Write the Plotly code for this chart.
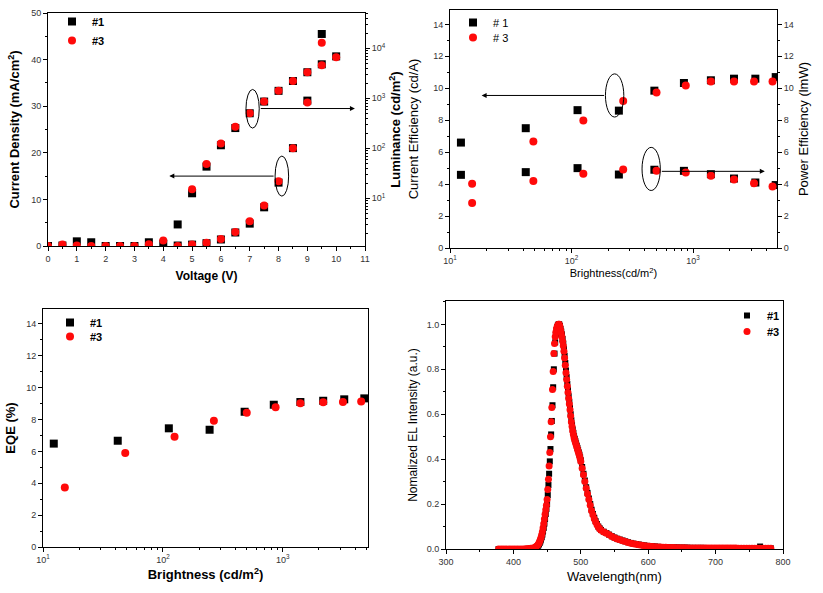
import plotly.graph_objects as go

# ---------------- Panel 1: J-V-L ----------------
voltage = [0, 0.5, 1, 1.5, 2, 2.5, 3, 3.5, 4, 4.5, 5, 5.5, 6, 6.5, 7, 7.5, 8, 8.5, 9, 9.5]
j_dev1 = [0.0, 0.1, 1.0, 0.8, 0.0, 0.0, 0.0, 0.8, 0.5, 0.1, 0.3, 0.6, 1.4, 2.9, 4.8, 8.3, 13.6, 21.0, 31.2, 45.5]
j_dev3 = [0.0, 0.3, 0.1, 0.0, 0.0, 0.0, 0.0, 0.4, 1.2, 0.0, 0.3, 0.7, 1.5, 3.0, 5.3, 8.7, 13.9, 21.0, 30.8, 43.6]
lum_v1 = [4.5, 5, 5.5, 6, 6.5, 7, 7.5, 8, 8.5, 9, 9.5, 10]
lum_dev1 = [3.0, 12.6, 43, 115, 254, 502, 861, 1410, 2215, 3320, 4790, 6900]
lum_v3 = [5, 5.5, 6, 6.5, 7, 7.5, 8, 8.5, 9, 9.5, 10]
lum_dev3 = [15.2, 48.5, 125, 270, 502, 861, 1410, 2215, 3320, 4570, 6620]

# ---------------- Panel 2/3: efficiencies ----------------
bright1 = [12.3, 42, 112, 245, 480, 840, 1400, 2170, 3250, 4780]
bright3 = [15.2, 48.5, 125, 266, 500, 870, 1400, 2170, 3170, 4500]
ce1 = [6.6, 7.5, 8.63, 8.6, 9.85, 10.33, 10.5, 10.6, 10.6, 10.7]
ce3 = [4.02, 6.67, 7.98, 9.2, 9.73, 10.17, 10.42, 10.42, 10.42, 10.42]
pe1 = [4.58, 4.75, 5.0, 4.6, 4.9, 4.83, 4.62, 4.35, 4.1, 3.94]
pe3 = [2.81, 4.2, 4.65, 4.92, 4.83, 4.73, 4.52, 4.29, 4.06, 3.85]
eqe1 = [6.49, 6.67, 7.45, 7.36, 8.49, 8.93, 9.1, 9.18, 9.27, 9.33]
eqe3 = [3.74, 5.9, 6.92, 7.93, 8.43, 8.77, 9.02, 9.08, 9.1, 9.14]

# ---------------- Panel 4: EL spectra ----------------
wavelength = (list(range(378, 435, 4)) + list(range(436, 501)) +
              list(range(502, 531, 2)) + list(range(534, 783, 4)))
el_dev3 = [
    0, 0, 0, 0, 0, 0, 0, 0, 0, 0, 0.001, 0.002, 0.003, 0.006, 0.012,
    0.017, 0.021, 0.027, 0.034, 0.042, 0.051, 0.063, 0.077, 0.093, 0.112,
    0.133, 0.155, 0.175, 0.195, 0.22, 0.265, 0.31, 0.37, 0.43, 0.5,
    0.567, 0.63, 0.71, 0.79, 0.87, 0.915, 0.945, 0.965, 0.98, 0.99,
    0.997, 1.0, 1.0, 0.99, 0.975,
    0.962, 0.945, 0.925, 0.905, 0.88, 0.85, 0.818, 0.785, 0.755, 0.725,
    0.697, 0.67, 0.645, 0.62, 0.592, 0.565, 0.545, 0.525, 0.51, 0.495,
    0.485, 0.475, 0.465, 0.455, 0.445, 0.435, 0.425, 0.415, 0.403, 0.39,
    0.36, 0.33, 0.3, 0.27, 0.245, 0.22, 0.195, 0.17, 0.152, 0.135,
    0.12, 0.108, 0.098, 0.09, 0.083,
    0.076, 0.07, 0.063, 0.056, 0.05, 0.045, 0.041, 0.037, 0.033, 0.029,
    0.026, 0.023, 0.021, 0.019, 0.017, 0.015, 0.013, 0.012, 0.011, 0.01,
    0.009, 0.009, 0.008, 0.008, 0.007, 0.007, 0.007, 0.006, 0.006, 0.006,
    0.006, 0.005, 0.005, 0.005, 0.005, 0.005, 0.005, 0.005, 0.004, 0.004,
    0.004, 0.004, 0.004, 0.004, 0.004, 0.004, 0.004, 0.004, 0.004, 0.004,
    0.003, 0.003, 0.003, 0.003, 0.003, 0.003, 0.003, 0.003, 0.003, 0.003,
    0.003, 0.003, 0.003,
]
el_dev1 = [
    0, 0, 0, 0, 0, 0, 0, 0, 0, 0, 0, 0.001, 0.002, 0.004, 0.009,
    0.012, 0.016, 0.021, 0.027, 0.034, 0.042, 0.052, 0.064, 0.078, 0.094,
    0.113, 0.134, 0.156, 0.178, 0.2, 0.24, 0.285, 0.335, 0.39, 0.445,
    0.51, 0.57, 0.64, 0.72, 0.8, 0.87, 0.92, 0.955, 0.975, 0.988,
    0.996, 1.0, 1.0, 0.993, 0.98,
    0.968, 0.955, 0.935, 0.915, 0.89, 0.86, 0.828, 0.795, 0.765, 0.735,
    0.707, 0.68, 0.654, 0.628, 0.6, 0.573, 0.552, 0.532, 0.517, 0.502,
    0.491, 0.48, 0.47, 0.46, 0.45, 0.44, 0.43, 0.42, 0.408, 0.395,
    0.365, 0.335, 0.305, 0.275, 0.25, 0.225, 0.2, 0.175, 0.156, 0.139,
    0.124, 0.111, 0.1, 0.092, 0.085,
    0.077, 0.071, 0.064, 0.057, 0.051, 0.046, 0.042, 0.038, 0.034, 0.03,
    0.027, 0.024, 0.022, 0.02, 0.018, 0.016, 0.014, 0.013, 0.012, 0.011,
    0.01, 0.009, 0.009, 0.008, 0.008, 0.007, 0.007, 0.007, 0.006, 0.006,
    0.006, 0.006, 0.005, 0.005, 0.005, 0.005, 0.005, 0.005, 0.004, 0.004,
    0.004, 0.004, 0.004, 0.004, 0.004, 0.004, 0.004, 0.004, 0.004, 0.004,
    0.003, 0.003, 0.003, 0.003, 0.003, 0.003, 0.003, 0.003, 0.011, 0.003,
    0.003, 0.003, 0.003,
]

BLACK = "#000000"
RED = "#ff0a0a"
FONT = "Liberation Sans, Arial, sans-serif"
TICKFONT = dict(family=FONT, size=9, color="#333333")


def sq(size=7):
    return dict(symbol="square", size=size, color=BLACK)


def ci(size=8):
    return dict(symbol="circle", size=size, color=RED)


fig = go.Figure()

# Panel 1
fig.add_trace(go.Scatter(x=voltage, y=j_dev1, mode="markers", marker=sq(8), name="<b>#1</b>",
                         xaxis="x", yaxis="y", legend="legend"))
fig.add_trace(go.Scatter(x=voltage, y=j_dev3, mode="markers", marker=ci(8), name="<b>#3</b>",
                         xaxis="x", yaxis="y", legend="legend2"))
fig.add_trace(go.Scatter(x=lum_v1, y=lum_dev1, mode="markers", marker=sq(8), showlegend=False,
                         xaxis="x", yaxis="y2"))
fig.add_trace(go.Scatter(x=lum_v3, y=lum_dev3, mode="markers", marker=ci(8), showlegend=False,
                         xaxis="x", yaxis="y2"))

# Panel 2
fig.add_trace(go.Scatter(x=bright1, y=ce1, mode="markers", marker=sq(8), name="# 1",
                         xaxis="x2", yaxis="y3", legend="legend3"))
fig.add_trace(go.Scatter(x=bright3, y=ce3, mode="markers", marker=ci(8), name="# 3",
                         xaxis="x2", yaxis="y3", legend="legend4"))
fig.add_trace(go.Scatter(x=bright1, y=pe1, mode="markers", marker=sq(8), showlegend=False,
                         xaxis="x2", yaxis="y4"))
fig.add_trace(go.Scatter(x=bright3, y=pe3, mode="markers", marker=ci(8), showlegend=False,
                         xaxis="x2", yaxis="y4"))

# Panel 3
fig.add_trace(go.Scatter(x=bright1, y=eqe1, mode="markers", marker=sq(8), name="<b>#1</b>",
                         xaxis="x3", yaxis="y5", legend="legend5"))
fig.add_trace(go.Scatter(x=bright3, y=eqe3, mode="markers", marker=ci(8), name="<b>#3</b>",
                         xaxis="x3", yaxis="y5", legend="legend6"))

# Panel 4
fig.add_trace(go.Scatter(x=wavelength, y=el_dev1, mode="markers", marker=sq(6), name="<b>#1</b>",
                         xaxis="x4", yaxis="y6", legend="legend7"))
fig.add_trace(go.Scatter(x=wavelength, y=el_dev3, mode="markers", marker=ci(7), name="<b>#3</b>",
                         xaxis="x4", yaxis="y6", legend="legend8"))


def lin_axis(rng, dtick, mdtick, domain, anchor, title=None, bold=False, tsize=12,
             standoff=5, side=None, mirror=True, tickformat=None):
    d = dict(range=rng, domain=domain, anchor=anchor, showline=True, linecolor="black",
             linewidth=1, mirror=mirror, ticks="outside", ticklen=4, tickcolor="black",
             tickwidth=1, dtick=dtick, tick0=0, showgrid=False, zeroline=False,
             tickfont=TICKFONT, automargin=False,
             minor=dict(ticks="outside", ticklen=2, dtick=mdtick, tick0=0,
                        tickcolor="black", showgrid=False))
    if tickformat:
        d["tickformat"] = tickformat
    if side:
        d["side"] = side
    if title:
        txt = f"<b>{title}</b>" if bold else title
        d["title"] = dict(text=txt, font=dict(family=FONT, size=tsize, color="black"),
                          standoff=standoff)
    return d


def log_axis(rng, decades, domain, anchor, title=None, bold=False, tsize=12, standoff=5,
             side=None, mirror=True):
    tv = [10 ** p for p in decades]
    tt = [f"10<sup>{p}</sup>" for p in decades]
    minor_vals = []
    for p in range(0, 6):
        for m in range(2, 10):
            minor_vals.append(m * 10 ** p)
    d = dict(type="log", range=rng, domain=domain, anchor=anchor, showline=True,
             linecolor="black", linewidth=1, mirror=mirror, ticks="outside", ticklen=4,
             tickcolor="black", tickmode="array", tickvals=tv, ticktext=tt,
             showgrid=False, zeroline=False, tickfont=TICKFONT, automargin=False,
             minor=dict(ticks="outside", ticklen=2, tickmode="array", tickvals=minor_vals,
                        tickcolor="black", showgrid=False))
    if side:
        d["side"] = side
    if title:
        txt = f"<b>{title}</b>" if bold else title
        d["title"] = dict(text=txt, font=dict(family=FONT, size=tsize, color="black"),
                          standoff=standoff)
    return d


W, H = 823, 593


def dx(a, b):
    return [a / W, b / W]


def dy(top, bottom):
    return [1 - bottom / H, 1 - top / H]


layout = dict(
    width=W, height=H, margin=dict(l=0, r=0, t=0, b=0, autoexpand=False),
    paper_bgcolor="white", plot_bgcolor="white",
    font=dict(family=FONT, color="black"),
)

# Panel 1 axes
layout["xaxis"] = lin_axis([0, 11], 1, 0.5, dx(48, 365), "y", "Voltage (V)", bold=True,
                           tsize=12, standoff=8)
layout["yaxis"] = lin_axis([0, 50], 10, 5, dy(13, 246), "x",
                           "Current Density (mA/cm<sup>2</sup>)",
                           bold=True, tsize=13, standoff=8, mirror=False)
y2 = log_axis([0.046, 4.706], [1, 2, 3, 4], dy(13, 246), "x",
              "Luminance (cd/m<sup>2</sup>)", bold=True, tsize=13, standoff=6, side="right",
              mirror=False)
y2["overlaying"] = "y"
layout["yaxis2"] = y2

# Panel 2 axes
layout["xaxis2"] = log_axis([1, 3.69], [1, 2, 3], dx(450, 777), "y3",
                            "Brightness(cd/m<sup>2</sup>)", tsize=11, standoff=4)
layout["yaxis3"] = lin_axis([0, 14.9], 2, 1, dy(10, 248), "x2", "Current Efficiency (cd/A)",
                            tsize=13, standoff=11, mirror=False)
y4 = lin_axis([0, 14.9], 2, 1, dy(10, 248), "x2", "Power Efficiency (lmW)", tsize=13,
              standoff=6, side="right", mirror=False)
y4["overlaying"] = "y3"
layout["yaxis4"] = y4

# Panel 3 axes
layout["xaxis3"] = log_axis([1, 3.71], [1, 2, 3], dx(43, 368), "y5",
                            "Brightness (cd/m<sup>2</sup>)", bold=True, tsize=13, standoff=6)
layout["yaxis5"] = lin_axis([0, 14.94], 2, 1, dy(309, 547), "x3", "EQE (%)", bold=True,
                            tsize=13, standoff=7)

# Panel 4 axes
layout["xaxis4"] = lin_axis([300, 800], 100, 50, dx(446, 783), "y6", "Wavelength(nm)",
                            tsize=13, standoff=6)
layout["yaxis6"] = lin_axis([0, 1.104], 0.2, 0.1, dy(301, 549), "x4",
                            "Nomalized EL Intensity (a.u.)", tsize=12, standoff=6,
                            tickformat=".1f")

leg_common = dict(bgcolor="rgba(0,0,0,0)", borderwidth=0, itemwidth=30, tracegroupgap=0,
                  xanchor="left", yanchor="top")
legend_pos = {
    "legend": (52, 7, 11), "legend2": (52, 26, 11),
    "legend3": (453, 8, 11), "legend4": (453, 23, 11),
    "legend5": (50, 308, 11), "legend6": (50, 322, 11),
    "legend7": (727, 301, 11), "legend8": (727, 317, 11),
}
for key, (lx, ly, fs) in legend_pos.items():
    layout[key] = dict(leg_common, x=lx / W, y=1 - ly / H,
                       font=dict(family=FONT, size=fs, color="black"))

shapes = []
annotations = []
line = dict(color="black", width=1)
# Panel 1 ellipses / arrows
shapes.append(dict(type="circle", xref="x", yref="y", x0=6.87, x1=7.33, y0=25.3, y1=33.6, line=line))
shapes.append(dict(type="circle", xref="x", yref="y", x0=7.88, x1=8.35, y0=10.7, y1=19.3, line=line))
annotations.append(dict(xref="x", yref="y", axref="x", ayref="y", x=10.65, y=29.5, ax=7.33, ay=29.5,
                        text="", showarrow=True, arrowhead=2, arrowsize=1, arrowwidth=1,
                        arrowcolor="black"))
annotations.append(dict(xref="x", yref="y", axref="x", ayref="y", x=4.21, y=15.0, ax=7.88, ay=15.0,
                        text="", showarrow=True, arrowhead=2, arrowsize=1, arrowwidth=1,
                        arrowcolor="black"))
# Panel 2 ellipses / arrows
shapes.append(dict(type="circle", xref="x2", yref="y3", x0=190, x1=269, y0=8.2, y1=10.9, line=line))
shapes.append(dict(type="circle", xref="x2", yref="y3", x0=380, x1=537, y0=3.6, y1=6.3, line=line))
annotations.append(dict(xref="x2", yref="y3", axref="x2", ayref="y3", x=1.26, y=9.55, ax=2.28,
                        ay=9.55, text="", showarrow=True, arrowhead=2, arrowsize=1, arrowwidth=1,
                        arrowcolor="black"))
annotations.append(dict(xref="x2", yref="y3", axref="x2", ayref="y3", x=3.59, y=4.8, ax=2.73,
                        ay=4.8, text="", showarrow=True, arrowhead=2, arrowsize=1, arrowwidth=1,
                        arrowcolor="black"))
layout["shapes"] = shapes
layout["annotations"] = annotations

fig.update_layout(**layout)
fig.write_html("out.html", config={"displayModeBar": False},
               post_script="document.body.style.margin='0';")
